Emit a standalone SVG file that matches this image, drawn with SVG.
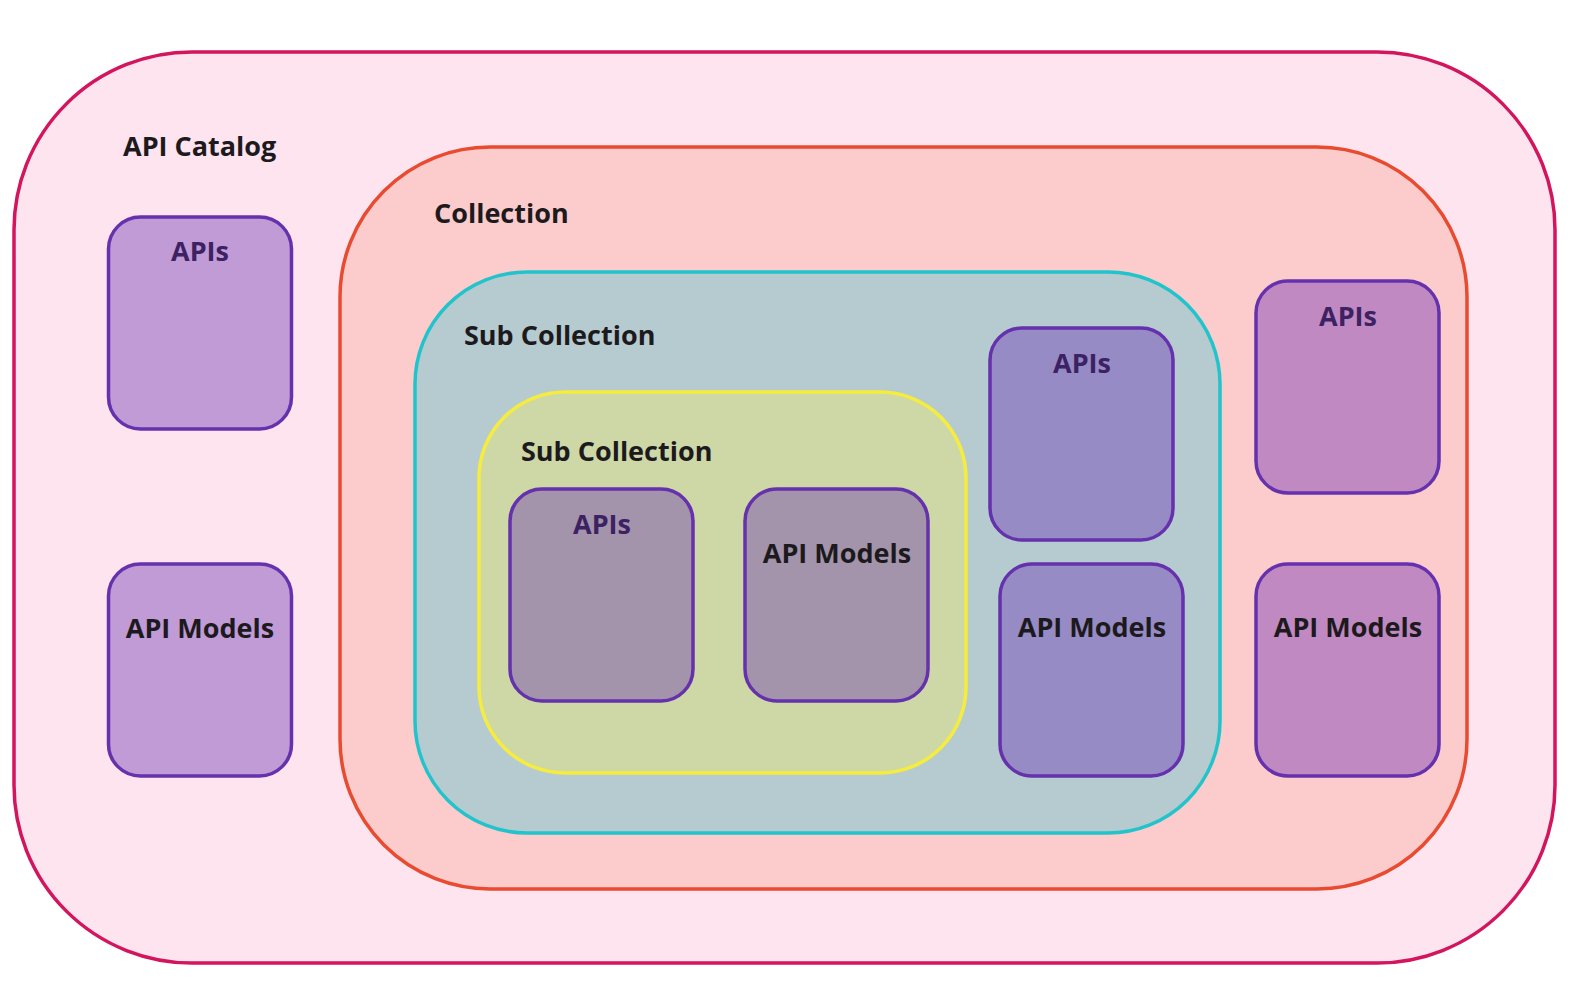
<svg xmlns="http://www.w3.org/2000/svg" width="1576" height="991" viewBox="0 0 1576 991">
<style>
text{font-family:"Open Sans","Noto Sans","Liberation Sans",sans-serif;font-weight:700;}
.title{font-size:27px;fill:#1d1a1e;}
.lbl{font-size:27px;text-anchor:middle;}
.apis{fill:#3c2262;}
.mod{fill:#1d1a1e;}
.box{stroke:#6531ad;stroke-width:3.5;}
.b1{fill:#c19bd6;}
.b2{fill:#a394ab;}
.b3{fill:#968bc4;}
.b4{fill:#c189c1;}
.cont{stroke-width:3.5;}
</style>
<rect width="1576" height="991" fill="#ffffff"/>
<g id="api-catalog">
<rect class="cont" x="14" y="52" width="1541" height="911" rx="178" ry="178" fill="#fde4ef" stroke="#d3155e"/>
<text class="title" x="123" y="156">API Catalog</text>
</g>
<g id="collection">
<rect class="cont" x="340" y="147" width="1127" height="742" rx="150" ry="150" fill="#fccbcc" stroke="#e84b2f"/>
<text class="title" x="434" y="223">Collection</text>
</g>
<g id="sub-collection-1">
<rect class="cont" x="415" y="272" width="805" height="561" rx="112" ry="112" fill="#b6cbd0" stroke="#22c4cc"/>
<text class="title" x="464" y="345">Sub Collection</text>
</g>
<g id="sub-collection-2">
<rect class="cont" x="479" y="392" width="487" height="381" rx="86" ry="86" fill="#cdd8a6" stroke="#f6ec3e"/>
<text class="title" x="521" y="461">Sub Collection</text>
</g>
<g id="catalog-apis">
<rect class="box b1" x="108.5" y="217" width="183" height="212" rx="32" ry="32"/>
<text class="lbl apis" x="200" y="261">APIs</text>
</g>
<g id="catalog-models">
<rect class="box b1" x="108.5" y="564" width="183" height="212" rx="32" ry="32"/>
<text class="lbl mod" x="200" y="638">API Models</text>
</g>
<g id="sub2-apis">
<rect class="box b2" x="510" y="489" width="183" height="212" rx="32" ry="32"/>
<text class="lbl apis" x="602" y="534">APIs</text>
</g>
<g id="sub2-models">
<rect class="box b2" x="745" y="489" width="183" height="212" rx="32" ry="32"/>
<text class="lbl mod" x="837" y="563">API Models</text>
</g>
<g id="sub1-apis">
<rect class="box b3" x="990" y="328" width="183" height="212" rx="32" ry="32"/>
<text class="lbl apis" x="1082" y="373">APIs</text>
</g>
<g id="sub1-models">
<rect class="box b3" x="1000" y="564" width="183" height="212" rx="32" ry="32"/>
<text class="lbl mod" x="1092" y="637">API Models</text>
</g>
<g id="collection-apis">
<rect class="box b4" x="1256" y="281" width="183" height="212" rx="32" ry="32"/>
<text class="lbl apis" x="1348" y="326">APIs</text>
</g>
<g id="collection-models">
<rect class="box b4" x="1256" y="564" width="183" height="212" rx="32" ry="32"/>
<text class="lbl mod" x="1348" y="637">API Models</text>
</g>
<g id="connectors"></g>
</svg>
